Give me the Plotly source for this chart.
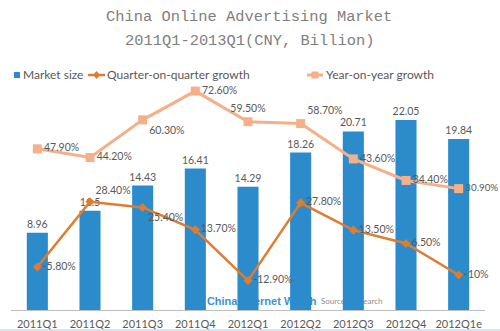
import plotly.graph_objects as go

# Chart data
quarters = ["2011Q1", "2011Q2", "2011Q3", "2011Q4", "2012Q1",
            "2012Q2", "2012Q3", "2012Q4", "2012Q1e"]
market_size = [8.96, 11.5, 14.43, 16.41, 14.29, 18.26, 20.71, 22.05, 19.84]
qoq_growth = [-5.8, 28.4, 25.4, 13.7, -12.9, 27.8, 13.5, 6.5, -10.0]
yoy_growth = [47.9, 44.2, 60.3, 72.6, 59.5, 58.7, 43.6, 34.4, 30.9]
series_names = ["Market size", "Quarter-on-quarter growth", "Year-on-year growth"]

BAR_BLUE = "#2B8BCB"
QOQ_ORANGE = "#E07B30"
YOY_PEACH = "#F5B08A"
LABEL_GREY = "#595959"
FONT = "Lato, 'Noto Sans', sans-serif"

# Figure geometry (px): plot area spans x 11..485, y 85..310
W, H = 500, 331
L, R, T, B = 11, 15, 85, 21
PW, PH = W - L - R, H - T - B


def fx(px):
    return (px - L) / PW


def fy(py):
    return (H - B - py) / PH


xpos = list(range(len(quarters)))


def pct(v):
    return f"{v:.0f}%" if float(v).is_integer() else f"{v:.2f}%"


qoq_pos = ["middle right", "top right", "bottom right", "middle right", "middle right",
           "middle right", "middle right", "middle right", "middle right"]
yoy_pos = ["middle right", "middle right", "bottom right", "middle right", "top center",
           "top right", "middle right", "middle right", "middle right"]
# last year-on-year label sits against the right edge, so it is set a touch smaller
yoy_sizes = [10.5] * (len(yoy_growth) - 1) + [9.8]

fig = go.Figure()

# Watermark sits on the base axes so the bars are painted over it
fig.add_trace(go.Scatter(
    x=[4.26, 5.97], y=[fy(302), fy(302)], mode="text",
    text=["<b>China Internet Watch</b>", "Source: iResearch"],
    textfont=dict(family=["'Liberation Sans Narrow', 'Liberation Sans', sans-serif", FONT],
                  size=[11, 8], color=["#3B93D6", "#8C8C8C"]),
    showlegend=False, hoverinfo="skip", xaxis="x", yaxis="y",
))

fig.add_trace(go.Bar(
    x=xpos, y=market_size, name=series_names[0], width=0.4,
    marker=dict(color=BAR_BLUE, line=dict(width=0)),
    text=[f"{v:g}" for v in market_size], textposition="outside",
    constraintext="none",
    textfont=dict(family=FONT, size=10.5, color=LABEL_GREY),
    cliponaxis=False, yaxis="y2", showlegend=False,
))

fig.add_trace(go.Scatter(
    x=xpos, y=qoq_growth, name=series_names[1], mode="lines+markers+text",
    line=dict(color=QOQ_ORANGE, width=2.5),
    marker=dict(symbol="diamond", size=7, color=QOQ_ORANGE),
    text=[pct(v) for v in qoq_growth], textposition=qoq_pos,
    textfont=dict(family=FONT, size=10.5, color=LABEL_GREY),
    cliponaxis=False, yaxis="y3", showlegend=False,
))

fig.add_trace(go.Scatter(
    x=xpos, y=yoy_growth, name=series_names[2], mode="lines+markers+text",
    line=dict(color=YOY_PEACH, width=3),
    marker=dict(symbol="square", size=9, color=YOY_PEACH),
    text=[pct(v) for v in yoy_growth], textposition=yoy_pos,
    textfont=dict(family=FONT, size=yoy_sizes, color=LABEL_GREY),
    cliponaxis=False, yaxis="y4", showlegend=False,
))

# Legend row: key shapes plus series names
LEG_Y = 75
legend_shapes = [
    dict(type="rect", xref="paper", yref="paper",
         x0=fx(14), x1=fx(20), y0=fy(78), y1=fy(72),
         fillcolor=BAR_BLUE, line=dict(width=0)),
    dict(type="line", xref="paper", yref="paper",
         x0=fx(88), x1=fx(105), y0=fy(LEG_Y), y1=fy(LEG_Y),
         line=dict(color=QOQ_ORANGE, width=2.5)),
    dict(type="path", xref="paper", yref="paper",
         path=(f"M {fx(96.5)},{fy(71)} L {fx(100)},{fy(75)} "
               f"L {fx(96.5)},{fy(79)} L {fx(93)},{fy(75)} Z"),
         fillcolor=QOQ_ORANGE, line=dict(width=0)),
    dict(type="line", xref="paper", yref="paper",
         x0=fx(307), x1=fx(323), y0=fy(LEG_Y), y1=fy(LEG_Y),
         line=dict(color=YOY_PEACH, width=3)),
    dict(type="rect", xref="paper", yref="paper",
         x0=fx(311.5), x1=fx(318.5), y0=fy(78.5), y1=fy(71.5),
         fillcolor=YOY_PEACH, line=dict(width=0)),
]
legend_texts = [
    dict(text=name, xref="paper", yref="paper", x=fx(px), y=fy(LEG_Y),
         xanchor="left", yanchor="middle", showarrow=False,
         font=dict(family=FONT, size=12, color=LABEL_GREY))
    for name, px in zip(series_names, [21, 105, 324])
]

title_font = dict(family="'Liberation Mono', monospace", size=15.4, color="#7F7F7F")
titles = [
    dict(text="China Online Advertising Market", xref="paper", yref="paper",
         x=fx(249), y=fy(17), xanchor="center", yanchor="middle",
         showarrow=False, font=title_font),
    dict(text="2011Q1-2013Q1(CNY, Billion)", xref="paper", yref="paper",
         x=fx(249), y=fy(41), xanchor="center", yanchor="middle",
         showarrow=False, font=title_font),
]

hidden = dict(visible=False, fixedrange=True)

fig.update_layout(
    width=W, height=H,
    margin=dict(l=L, r=R, t=T, b=B, autoexpand=False),
    paper_bgcolor="white", plot_bgcolor="white",
    showlegend=False,
    xaxis=dict(range=[-0.5, 8.5], tickvals=xpos, ticktext=quarters,
               automargin=False,
               showgrid=False, zeroline=False, showline=True,
               linecolor="#BFBFBF", linewidth=1,
               ticks="outside", ticklen=4, tickcolor="rgba(0,0,0,0)",
               tickfont=dict(family=FONT, size=11, color=LABEL_GREY)),
    yaxis=dict(range=[0, 1], automargin=False, **hidden),
    yaxis2=dict(range=[0, 26.1], overlaying="y", automargin=False, **hidden),
    yaxis3=dict(range=[-28.3, 89.5], overlaying="y", automargin=False, **hidden),
    yaxis4=dict(range=[-21.0, 75.2], overlaying="y", automargin=False, **hidden),
    annotations=titles + legend_texts,
    shapes=legend_shapes + [
        dict(type="line", xref="paper", yref="paper",
             x0=fx(0), x1=fx(W), y0=fy(330), y1=fy(330),
             line=dict(color="#C9DEF1", width=1.5)),
    ],
)

fig.write_html("out.html")
